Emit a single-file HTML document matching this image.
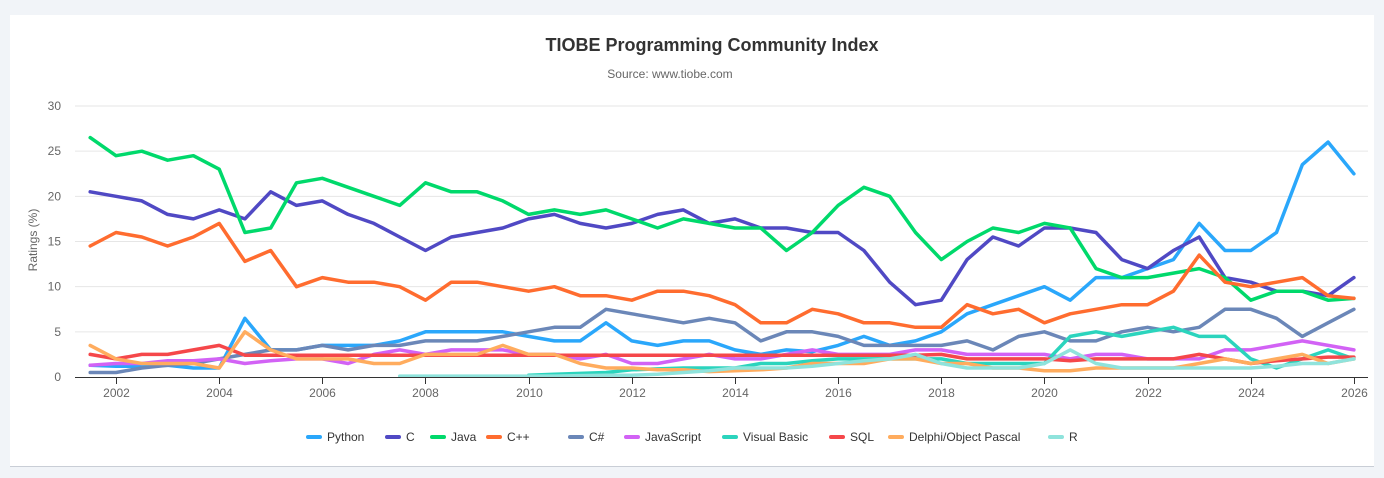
<!DOCTYPE html>
<html><head><meta charset="utf-8"><style>
body{margin:0;width:1384px;height:478px;background:#f1f4f8;font-family:"Liberation Sans",sans-serif;overflow:hidden}
#card{position:absolute;left:10px;top:15px;width:1364px;height:451px;background:#fff;border-bottom:1px solid #c9ced6}
</style></head><body>
<div id="card"></div>
<svg id="chart" width="1384" height="478" style="position:absolute;left:0;top:0">
<text x="712" y="51" text-anchor="middle" font-size="18" font-weight="bold" fill="#333">TIOBE Programming Community Index</text>
<text x="670" y="78" text-anchor="middle" font-size="12" fill="#666">Source: www.tiobe.com</text>
<text transform="translate(37,240) rotate(-90)" text-anchor="middle" font-size="12" fill="#666">Ratings (%)</text>
<g id="grid"></g><g id="lines"></g><g id="axis"></g><g id="legend"></g>
</svg>
<script>
const years=[2001.5,2002,2002.5,2003,2003.5,2004,2004.5,2005,2005.5,2006,2006.5,2007,2007.5,2008,2008.5,2009,2009.5,2010,2010.5,2011,2011.5,2012,2012.5,2013,2013.5,2014,2014.5,2015,2015.5,2016,2016.5,2017,2017.5,2018,2018.5,2019,2019.5,2020,2020.5,2021,2021.5,2022,2022.5,2023,2023.5,2024,2024.5,2025,2025.5,2026];
const python=[1.3,1.2,1.2,1.3,1.0,1.0,6.5,3,3,3.5,3.5,3.5,4,5,5,5,5,4.5,4,4,6,4,3.5,4,4,3,2.5,3,2.8,3.5,4.5,3.5,4,5,7,8,9,10,8.5,11,11,12,13,17,14,14,16,23.5,26,22.5];
const cLang=[20.5,20,19.5,18,17.5,18.5,17.5,20.5,19,19.5,18,17,15.5,14,15.5,16,16.5,17.5,18,17,16.5,17,18,18.5,17,17.5,16.5,16.5,16,16,14,10.5,8,8.5,13,15.5,14.5,16.5,16.5,16,13,12,14,15.5,11,10.5,9.5,9.5,9,11];
const java=[26.5,24.5,25,24,24.5,23,16,16.5,21.5,22,21,20,19,21.5,20.5,20.5,19.5,18,18.5,18,18.5,17.5,16.5,17.5,17,16.5,16.5,14,16,19,21,20,16,13,15,16.5,16,17,16.5,12,11,11,11.5,12,11,8.5,9.5,9.5,8.5,8.7];
const cpp=[14.5,16,15.5,14.5,15.5,17,12.8,14,10,11,10.5,10.5,10,8.5,10.5,10.5,10,9.5,10,9,9,8.5,9.5,9.5,9,8,6,6,7.5,7,6,6,5.5,5.5,8,7,7.5,6,7,7.5,8,8,9.5,13.5,10.5,10,10.5,11,9,8.7];
const csharp=[0.5,0.5,1.0,1.3,1.5,2,2.5,3,3,3.5,3,3.5,3.5,4,4,4,4.5,5,5.5,5.5,7.5,7,6.5,6,6.5,6,4,5,5,4.5,3.5,3.5,3.5,3.5,4,3,4.5,5,4,4,5,5.5,5,5.5,7.5,7.5,6.5,4.5,6,7.5];
const javascript=[1.3,1.5,1.5,1.8,1.8,2,1.5,1.8,2,2,1.5,2.5,3,2.5,3,3,3,2.5,2.5,2,2.5,1.5,1.5,2,2.5,2,2,2.5,3,2.5,2.5,2.5,3,3,2.5,2.5,2.5,2.5,2,2.5,2.5,2,2,2,3,3,3.5,4,3.5,3];
const visualBasic=[null,null,null,null,null,null,null,null,null,null,null,null,null,null,null,null,null,0.2,0.3,0.4,0.5,0.8,0.9,1,1,1,1.5,1.5,1.8,2,2,2,2,2,1.5,1.5,1.5,1.5,4.5,5,4.5,5,5.5,4.5,4.5,2,1,2,3,2];
const sql=[2.5,2,2.5,2.5,3,3.5,2.4,2.4,2.4,2.4,2.4,2.4,2.4,2.4,2.4,2.4,2.4,2.4,2.4,2.4,2.4,2.4,2.4,2.4,2.4,2.4,2.4,2.4,2.4,2.4,2.4,2.4,2.4,2.5,2,2,2,2,1.8,2,2,2,2,2.5,2,1.5,1.8,2,2.2,2.2];
const delphi=[3.5,2,1.5,1.5,1.5,1.0,5,3,2,2,2,1.5,1.5,2.5,2.5,2.5,3.5,2.5,2.5,1.5,1,1,0.8,0.8,0.6,0.7,0.8,1.0,1.5,1.5,1.5,2,2,1.5,1.5,1,1,0.7,0.7,1,1,1,1,1.5,2,1.5,2,2.5,1.5,2];
const rLang=[null,null,null,null,null,null,null,null,null,null,null,null,0.1,0.1,0.1,0.1,0.1,0.1,0.1,0.15,0.2,0.2,0.3,0.5,0.7,1,1,1,1.2,1.5,1.8,2,2.5,1.5,1,1,1,1.5,3,1.5,1,1,1,1,1,1,1.2,1.5,1.5,2];
const seriesNames=["Python","C","Java","C++","C#","JavaScript","Visual Basic","SQL","Delphi/Object Pascal","R"];
const seriesData=[python,cLang,java,cpp,csharp,javascript,visualBasic,sql,delphi,rLang];
const colors=["#2aa7fb","#5049c4","#00d96b","#ff6c2f","#6b87b8","#d262f5","#2bd4bd","#f5474a","#ffac5e","#8fe3dc"];
const yTicks=[0,5,10,15,20,25,30];
const xTicks=[2002,2004,2006,2008,2010,2012,2014,2016,2018,2020,2022,2024,2026];
const legendX=[306,385,430,486,568,624,722,829,888,1048];

const NS="http://www.w3.org/2000/svg";
const X=y=>116+(y-2002)*51.58;
const Y=v=>377-v*9.033;
function mk(t,a,p){const e=document.createElementNS(NS,t);for(const k in a)e.setAttribute(k,a[k]);p.appendChild(e);return e;}
const grid=document.getElementById('grid'),axis=document.getElementById('axis'),lines=document.getElementById('lines'),leg=document.getElementById('legend');
yTicks.forEach(v=>{
  if(v>0){const g=mk('line',{x1:75,x2:1368,y1:Y(v),y2:Y(v),stroke:'#e6e6e6','stroke-width':1},grid);
  
  }
  const t=mk('text',{x:61,y:Y(v)+4,'text-anchor':'end','font-size':12,fill:'#666'},axis);t.textContent=v;
  
  
});
const al=mk('line',{x1:75,x2:1368,y1:377.5,y2:377.5,stroke:'#333','stroke-width':1},axis);


xTicks.forEach(yr=>{
  const x=Math.round(X(yr))+0.5;
  mk('line',{x1:x,x2:x,y1:378,y2:384,stroke:'#333'},axis);
  const t=mk('text',{x:x,y:397,'text-anchor':'middle','font-size':12,fill:'#666'},axis);t.textContent=yr;
  
  
});
seriesData.forEach((d,i)=>{
  let p='',pen=false;
  d.forEach((v,j)=>{if(v==null){pen=false;return;}p+=(pen?'L':'M')+X(years[j]).toFixed(1)+','+Y(v).toFixed(1);pen=true;});
  const e=mk('path',{d:p,fill:'none',stroke:colors[i],'stroke-width':3.5,'stroke-linejoin':'round','stroke-linecap':'round'},lines);
  
  
  const g=mk('g',{},leg);
  
  
  mk('line',{x1:legendX[i]+2,x2:legendX[i]+14,y1:437,y2:437,stroke:colors[i],'stroke-width':4,'stroke-linecap':'round'},g);
  const t=mk('text',{x:legendX[i]+21,y:441,'font-size':12,fill:'#333'},g);t.textContent=seriesNames[i];
});
</script>
</body></html>
